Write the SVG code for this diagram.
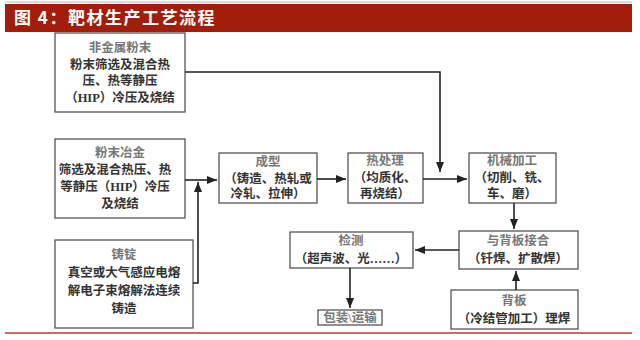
<svg xmlns="http://www.w3.org/2000/svg" width="640" height="340" viewBox="0 0 640 340">
<defs>
<style>
.box{fill:#fff;stroke:#555;stroke-width:1.3}
.t{font-family:"Liberation Serif","Noto Sans CJK SC",serif;font-size:12.5px;text-anchor:middle;fill:#333;font-weight:bold}
.h{fill:#777}
.c{fill:none;stroke:#222;stroke-width:1.6}
.title{font-family:"Noto Sans CJK SC",sans-serif;font-size:17px;font-weight:bold;fill:#fff;letter-spacing:1.5px}
</style>
<marker id="a" viewBox="0 0 10 8" refX="10" refY="4" markerWidth="10" markerHeight="8" markerUnits="userSpaceOnUse" orient="auto">
<path d="M0,0 L10,4 L0,8 z" fill="#222"/>
</marker>
</defs>
<rect width="640" height="340" fill="#fff"/>
<line x1="5" y1="2" x2="632" y2="2" stroke="#bbb" stroke-width="1"/>
<rect x="5" y="4" width="627" height="28" fill="#a31d0b"/>
<text class="title" x="14" y="24">图 4：靶材生产工艺流程</text>
<line x1="5" y1="333" x2="632" y2="333" stroke="#c0392b" stroke-width="1.5"/>

<g id="n1">
<rect class="box" x="55" y="33" width="130" height="79"/>
<text class="t h" x="120" y="52">非金属粉末</text>
<text class="t" x="120" y="69">粉末筛选及混合热</text>
<text class="t" x="120" y="85">压、热等静压</text>
<text class="t" x="120" y="102">（HIP）冷压及烧结</text>
</g>
<g id="n2">
<rect class="box" x="55" y="139" width="130" height="79"/>
<text class="t h" x="120" y="157">粉末冶金</text>
<text class="t" x="115" y="174">筛选及混合热压、热</text>
<text class="t" x="115" y="191">等静压（HIP）冷压</text>
<text class="t" x="120" y="208">及烧结</text>
</g>
<g id="n3">
<rect class="box" x="55" y="240" width="138" height="88"/>
<text class="t h" x="124" y="259">铸锭</text>
<text class="t" x="124" y="277">真空或大气感应电熔</text>
<text class="t" x="124" y="295">解电子束熔解法连续</text>
<text class="t" x="124" y="313">铸造</text>
</g>
<g id="n4">
<rect class="box" x="219" y="153" width="98" height="50"/>
<text class="t h" x="268" y="166">成型</text>
<text class="t" x="268" y="183">（铸造、热轧或</text>
<text class="t" x="268" y="198">冷轧、拉伸）</text>
</g>
<g id="n5">
<rect class="box" x="348" y="153" width="75" height="50"/>
<text class="t h" x="385" y="165">热处理</text>
<text class="t" x="385" y="182">（均质化、</text>
<text class="t" x="385" y="198">再烧结）</text>
</g>
<g id="n6">
<rect class="box" x="469" y="153" width="87" height="50"/>
<text class="t h" x="512" y="165">机械加工</text>
<text class="t" x="512" y="182">（切削、铣、</text>
<text class="t" x="512" y="198">车、磨）</text>
</g>
<g id="n7">
<rect class="box" x="459" y="231" width="119" height="38"/>
<text class="t h" x="518" y="245">与背板接合</text>
<text class="t" x="518" y="263">（钎焊、扩散焊）</text>
</g>
<g id="n8">
<rect class="box" x="290" y="232" width="123" height="36"/>
<text class="t h" x="351" y="245">检测</text>
<text class="t" x="351" y="263">（超声波、光……）</text>
</g>
<g id="n9">
<rect class="box" x="318" y="310" width="64" height="15"/>
<text class="t h" x="350" y="322">包装\运输</text>
</g>
<g id="n10">
<rect class="box" x="451" y="290" width="127" height="39"/>
<text class="t h" x="514" y="305">背板</text>
<text class="t" x="514" y="323">（冷结管加工）理焊</text>
</g>

<g id="connectors">
<path class="c" d="M185,72 H440 V172" marker-end="url(#a)"/>
<path class="c" d="M185,180 H217" marker-end="url(#a)"/>
<path class="c" d="M193,283 H198 V182" marker-end="url(#a)"/>
<path class="c" d="M317,179 H346" marker-end="url(#a)"/>
<path class="c" d="M423,179 H467" marker-end="url(#a)"/>
<path class="c" d="M514,203 V229" marker-end="url(#a)"/>
<path class="c" d="M459,250 H415" marker-end="url(#a)"/>
<path class="c" d="M350,268 V308" marker-end="url(#a)"/>
<path class="c" d="M516,290 V271" marker-end="url(#a)"/>
</g>
</svg>
